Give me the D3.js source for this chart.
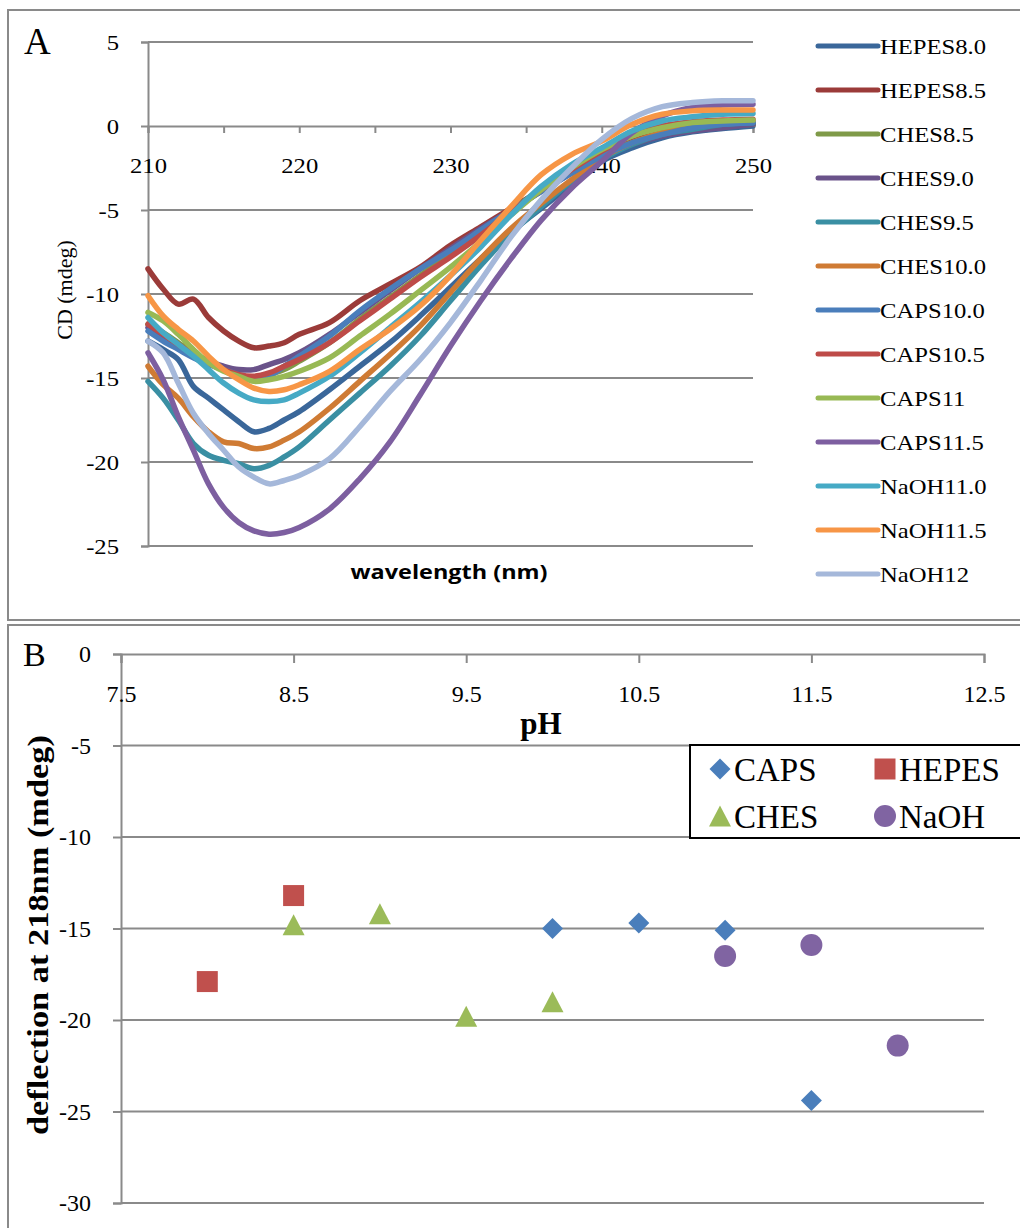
<!DOCTYPE html>
<html>
<head>
<meta charset="utf-8">
<script src="https://cdn.jsdelivr.net/npm/d3@7"></script>
<style>
  body { margin: 0; background: #fff; }
  svg { display: block; }
</style>
</head>
<body>
<div id="chart"></div>
<script>
// Panel A: CD spectra, one value per wavelength (nm)
const wavelengths = [210, 211, 212, 213, 214, 215, 216, 217, 218, 219, 220, 222, 224, 226, 228, 230, 232, 234, 236, 238, 240, 242, 244, 246, 248, 250];

const hepes80  = [-12.8, -13.3, -13.9, -15.5, -16.2, -16.9, -17.6, -18.2, -18.0, -17.5, -17.0, -15.7, -14.3, -12.9, -11.3, -9.6, -7.9, -6.3, -4.9, -3.5, -2.1, -1.3, -0.7, -0.35, -0.15, 0.0];
const hepes85  = [-8.5, -9.7, -10.6, -10.3, -11.4, -12.2, -12.8, -13.2, -13.1, -12.9, -12.4, -11.7, -10.4, -9.4, -8.4, -7.1, -6.0, -4.9, -3.8, -2.6, -1.6, -0.9, -0.4, -0.1, 0.05, 0.1];
const ches85   = [-11.8, -12.3, -12.9, -13.5, -14.0, -14.5, -14.8, -15.0, -14.8, -14.5, -14.0, -12.9, -11.5, -10.2, -8.9, -7.6, -6.3, -5.0, -3.8, -2.7, -1.7, -1.0, -0.5, -0.2, 0.0, 0.1];
const ches90   = [-12.0, -12.6, -13.1, -13.6, -14.0, -14.3, -14.5, -14.5, -14.2, -13.9, -13.5, -12.4, -11.1, -9.8, -8.5, -7.3, -6.1, -5.0, -3.9, -2.8, -1.8, -1.1, -0.6, -0.3, -0.1, 0.1];
const ches95   = [-15.2, -16.2, -17.5, -18.9, -19.6, -19.9, -20.1, -20.4, -20.2, -19.7, -19.1, -17.5, -15.9, -14.3, -12.5, -10.4, -8.3, -6.4, -4.8, -3.3, -2.0, -1.1, -0.5, -0.2, 0.1, 0.2];
const ches100  = [-14.3, -15.4, -16.2, -17.3, -18.2, -18.8, -18.9, -19.2, -19.1, -18.7, -18.2, -16.8, -15.2, -13.6, -11.9, -9.9, -7.9, -6.1, -4.6, -3.2, -1.9, -1.0, -0.4, 0.0, 0.2, 0.3];
const caps100  = [-12.2, -12.8, -13.3, -13.8, -14.2, -14.5, -14.8, -15.0, -14.9, -14.3, -13.7, -12.5, -11.0, -9.7, -8.5, -7.4, -6.2, -5.0, -3.9, -2.8, -1.8, -1.0, -0.5, -0.1, 0.1, 0.2];
const caps105  = [-11.8, -12.4, -13.0, -13.6, -14.1, -14.5, -14.8, -14.9, -14.7, -14.3, -13.9, -12.9, -11.6, -10.3, -9.0, -7.8, -6.5, -5.1, -3.8, -2.6, -1.5, -0.6, 0.0, 0.25, 0.35, 0.4];
const caps110  = [-11.1, -11.6, -12.4, -13.3, -14.1, -14.6, -14.9, -15.2, -15.1, -14.9, -14.6, -13.8, -12.5, -11.2, -9.8, -8.4, -6.9, -5.3, -3.8, -2.5, -1.4, -0.6, -0.1, 0.2, 0.3, 0.35];
const caps115  = [-13.5, -15.1, -17.3, -19.3, -21.3, -22.7, -23.6, -24.1, -24.3, -24.2, -23.9, -22.8, -21.0, -18.8, -16.0, -13.1, -10.4, -7.9, -5.6, -3.7, -2.1, -0.4, 0.6, 1.1, 1.25, 1.3];
const naoh110  = [-11.4, -12.3, -13.0, -13.7, -14.5, -15.3, -15.9, -16.3, -16.4, -16.3, -15.9, -14.9, -13.5, -12.0, -10.5, -8.9, -7.2, -5.3, -3.6, -2.3, -1.3, -0.3, 0.3, 0.55, 0.7, 0.75];
const naoh115  = [-10.1, -11.3, -12.1, -12.8, -13.7, -14.5, -15.1, -15.6, -15.8, -15.7, -15.4, -14.6, -13.3, -12.1, -10.7, -8.9, -6.8, -4.8, -2.9, -1.7, -0.9, 0.1, 0.7, 0.9, 0.95, 0.95];
const naoh120  = [-12.8, -13.5, -15.3, -17.1, -18.3, -19.3, -20.3, -20.9, -21.3, -21.1, -20.8, -19.8, -17.9, -15.8, -13.9, -11.7, -9.2, -6.6, -4.4, -2.5, -0.8, 0.45, 1.15, 1.4, 1.5, 1.5];

const seriesNames = ["HEPES8.0", "HEPES8.5", "CHES8.5", "CHES9.0", "CHES9.5", "CHES10.0",
    "CAPS10.0", "CAPS10.5", "CAPS11", "CAPS11.5", "NaOH11.0", "NaOH11.5", "NaOH12"];
const seriesValues = [hepes80, hepes85, ches85, ches90, ches95, ches100,
    caps100, caps105, caps110, caps115, naoh110, naoh115, naoh120];
const seriesColors = ["#3a679a", "#9b3b39", "#7f9a48", "#6a538a", "#3a8fa3", "#cf7b34",
    "#4a7ebb", "#be4b48", "#98b954", "#7d5fa0", "#46aac5", "#f79646", "#a5b8da"];

const cdTicks = [5, 0, -5, -10, -15, -20, -25];

// Panel B: deflection at 218 nm against pH
const capsPH = [10.0, 10.5, 11.0, 11.5];
const capsDefl = [-15.0, -14.7, -15.1, -24.4];
const hepesPH = [8.0, 8.5];
const hepesDefl = [-17.9, -13.2];
const chesPH = [8.5, 9.0, 9.5, 10.0];
const chesDefl = [-14.8, -14.2, -19.8, -19.0];
const naohPH = [11.0, 11.5, 12.0];
const naohDefl = [-16.5, -15.9, -21.4];

const phTicks = [7.5, 8.5, 9.5, 10.5, 11.5, 12.5];
const deflTicks = [0, -5, -10, -15, -20, -25, -30];

const grey = "#8a8a8a";
const serif = "'Liberation Serif', 'Times New Roman', serif";
const plain = d => String(d); // keep the hyphen minus of the original

const svg = d3.select("#chart").append("svg")
    .attr("width", 1020)
    .attr("height", 1228);

// stretch text a little sideways, the source picture is wider than tall
function widen(sel, k) {
    sel.each(function () {
        const w = this.getComputedTextLength();
        d3.select(this).attr("textLength", w * k).attr("lengthAdjust", "spacingAndGlyphs");
    });
}

// panel frames
svg.append("rect").attr("x", 8).attr("y", 10).attr("width", 1030).attr("height", 610)
    .attr("fill", "none").attr("stroke", grey).attr("stroke-width", 2);
svg.append("rect").attr("x", 8).attr("y", 625).attr("width", 1030).attr("height", 640)
    .attr("fill", "none").attr("stroke", grey).attr("stroke-width", 2);

drawPanelA();
drawPanelB();

function drawPanelA() {
    const x = d3.scaleLinear().domain([210, 250]).range([148, 753]);
    const y = d3.scaleLinear().domain([5, -25]).range([42, 546]);
    const g = svg.append("g");

    // horizontal gridlines
    g.append("g").selectAll("line")
        .data(cdTicks.filter(d => d !== 0))
        .join("line")
        .attr("x1", x(210)).attr("x2", x(250))
        .attr("y1", d => y(d)).attr("y2", d => y(d))
        .attr("stroke", grey).attr("stroke-width", 2);

    // y axis
    const yAxis = g.append("g")
        .attr("transform", `translate(${x(210)},0)`)
        .call(d3.axisLeft(y).tickValues(cdTicks).tickSize(7).tickPadding(22).tickFormat(plain));
    yAxis.select(".domain").attr("stroke", grey).attr("stroke-width", 2);
    yAxis.selectAll(".tick line").attr("stroke", grey).attr("stroke-width", 2);
    yAxis.selectAll("text").attr("font-family", serif).attr("font-size", 22).attr("fill", "#000");
    widen(yAxis.selectAll("text"), 1.12);

    // x axis sits on the zero line, labels hang below it
    const xAxis = g.append("g")
        .attr("transform", `translate(0,${y(0)})`)
        .call(d3.axisBottom(x).tickValues(d3.range(210, 251, 5)).tickSize(7).tickPadding(24)
            .tickFormat(d => d % 10 === 0 ? d : ""));
    xAxis.select(".domain").attr("stroke", grey).attr("stroke-width", 2);
    xAxis.selectAll(".tick line").attr("stroke", grey).attr("stroke-width", 2);
    xAxis.selectAll("text").attr("font-family", serif).attr("font-size", 22).attr("fill", "#000");
    widen(xAxis.selectAll("text"), 1.12);

    // spectra
    const line = d3.line()
        .x((d, i) => x(wavelengths[i]))
        .y(d => y(d))
        .curve(d3.curveCatmullRom.alpha(0.5));

    g.append("g").selectAll("path")
        .data(seriesValues)
        .join("path")
        .attr("d", d => line(d))
        .attr("fill", "none")
        .attr("stroke", (d, i) => seriesColors[i])
        .attr("stroke-width", 5.5)
        .attr("stroke-linejoin", "round")
        .attr("stroke-linecap", "round");

    // legend
    const legend = g.append("g").selectAll("g")
        .data(seriesNames)
        .join("g")
        .attr("transform", (d, i) => `translate(818,${46 + i * 44})`);
    legend.append("line")
        .attr("x1", 0).attr("x2", 60)
        .attr("stroke", (d, i) => seriesColors[i])
        .attr("stroke-width", 5)
        .attr("stroke-linecap", "round");
    const legText = legend.append("text")
        .attr("x", 62).attr("y", 8)
        .attr("font-family", serif).attr("font-size", 22)
        .text(d => d);
    widen(legText, 1.12);

    // titles
    g.append("text").attr("x", 24).attr("y", 54)
        .attr("font-family", serif).attr("font-size", 37).text("A");
    g.append("text")
        .attr("transform", "translate(72,290) rotate(-90)")
        .attr("text-anchor", "middle")
        .attr("font-family", serif).attr("font-size", 22)
        .text("CD (mdeg)");
    g.append("text")
        .attr("x", 449).attr("y", 579)
        .attr("text-anchor", "middle")
        .attr("font-family", "'Open Sans', sans-serif").attr("font-weight", "bold").attr("font-size", 20)
        .attr("textLength", 197).attr("lengthAdjust", "spacingAndGlyphs")
        .text("wavelength (nm)");
}

function drawPanelB() {
    const x = d3.scaleLinear().domain([7.5, 12.5]).range([121, 984]);
    const y = d3.scaleLinear().domain([0, -30]).range([654, 1203]);
    const g = svg.append("g");

    g.append("g").selectAll("line")
        .data(deflTicks.filter(d => d !== 0))
        .join("line")
        .attr("x1", x(7.5)).attr("x2", x(12.5))
        .attr("y1", d => y(d)).attr("y2", d => y(d))
        .attr("stroke", grey).attr("stroke-width", 2);

    const yAxis = g.append("g")
        .attr("transform", `translate(${x(7.5)},0)`)
        .call(d3.axisLeft(y).tickValues(deflTicks).tickSize(8).tickPadding(22).tickFormat(plain));
    yAxis.select(".domain").attr("stroke", grey).attr("stroke-width", 2);
    yAxis.selectAll(".tick line").attr("stroke", grey).attr("stroke-width", 2);
    yAxis.selectAll("text").attr("font-family", serif).attr("font-size", 24).attr("fill", "#000");

    const xAxis = g.append("g")
        .attr("transform", `translate(0,${y(0)})`)
        .call(d3.axisBottom(x).tickValues(phTicks).tickSize(9).tickPadding(22).tickFormat(d3.format(".1f")));
    xAxis.select(".domain").attr("stroke", grey).attr("stroke-width", 2);
    xAxis.selectAll(".tick line").attr("stroke", grey).attr("stroke-width", 2);
    xAxis.selectAll("text").attr("font-family", serif).attr("font-size", 24).attr("fill", "#000");

    // marker shapes
    const diamond = d3.symbol(d3.symbolSquare, 220)();
    const square = "M-10.5,-10.5H10.5V10.5H-10.5Z";
    const triangle = "M0,-10.5L11,10.5H-11Z";

    const groups = [
        { ph: capsPH, v: capsDefl, color: "#4a7ebb", shape: "diamond" },
        { ph: hepesPH, v: hepesDefl, color: "#c0504d", shape: "square" },
        { ph: chesPH, v: chesDefl, color: "#9bbb59", shape: "triangle" },
        { ph: naohPH, v: naohDefl, color: "#8064a2", shape: "circle" }
    ];

    function drawMarker(sel, shape, color) {
        if (shape === "circle") {
            sel.append("circle").attr("r", 11).attr("fill", color);
        } else if (shape === "diamond") {
            sel.append("path").attr("d", diamond).attr("transform", "rotate(45)").attr("fill", color);
        } else {
            sel.append("path").attr("d", shape === "square" ? square : triangle).attr("fill", color);
        }
    }

    groups.forEach(s => {
        s.ph.forEach((p, i) => {
            const m = g.append("g").attr("transform", `translate(${x(p)},${y(s.v[i])})`);
            drawMarker(m, s.shape, s.color);
        });
    });

    // legend box
    const lg = g.append("g");
    lg.append("rect").attr("x", 690).attr("y", 745).attr("width", 360).attr("height", 93)
        .attr("fill", "#fff").attr("stroke", "#000").attr("stroke-width", 2);
    const entries = [
        { name: "CAPS", shape: "diamond", color: "#4a7ebb", cx: 720, cy: 769 },
        { name: "HEPES", shape: "square", color: "#c0504d", cx: 885, cy: 769 },
        { name: "CHES", shape: "triangle", color: "#9bbb59", cx: 720, cy: 816 },
        { name: "NaOH", shape: "circle", color: "#8064a2", cx: 885, cy: 816 }
    ];
    entries.forEach(e => {
        const m = lg.append("g").attr("transform", `translate(${e.cx},${e.cy})`);
        drawMarker(m, e.shape, e.color);
        lg.append("text").attr("x", e.cx + 14).attr("y", e.cy + 12)
            .attr("font-family", serif).attr("font-size", 33).text(e.name);
    });

    // titles
    g.append("text").attr("x", 23).attr("y", 666)
        .attr("font-family", serif).attr("font-size", 34).text("B");
    g.append("text").attr("x", 541).attr("y", 734)
        .attr("text-anchor", "middle")
        .attr("font-family", serif).attr("font-weight", "bold").attr("font-size", 31)
        .text("pH");
    g.append("text")
        .attr("transform", "translate(48,935) rotate(-90)")
        .attr("text-anchor", "middle")
        .attr("font-family", serif).attr("font-weight", "bold").attr("font-size", 30)
        .attr("textLength", 400).attr("lengthAdjust", "spacingAndGlyphs")
        .text("deflection at 218nm (mdeg)");
}
</script>
</body>
</html>
